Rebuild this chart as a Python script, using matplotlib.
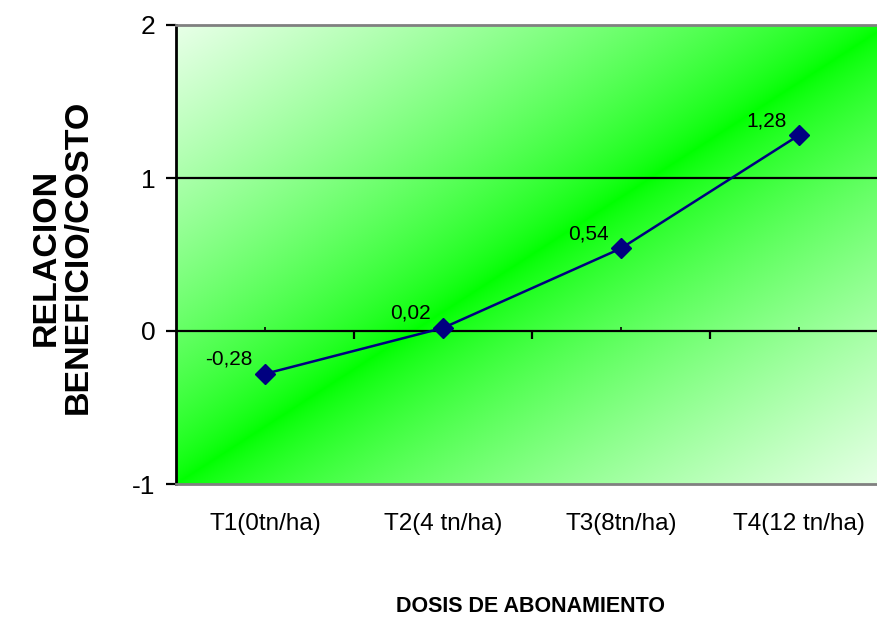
import numpy as np
import matplotlib.pyplot as plt

plt.rcParams['font.family'] = ['Liberation Sans', 'DejaVu Sans']

# data
categories = ['T1(0tn/ha)', 'T2(4 tn/ha)', 'T3(8tn/ha)', 'T4(12 tn/ha)']
relacion_bc = [-0.28, 0.02, 0.54, 1.28]
value_labels = ['-0,28', '0,02', '0,54', '1,28']
yticks = [-1, 0, 1, 2]

fig = plt.figure(figsize=(8.78, 6.23), dpi=100)
# plot area runs a bit past the right edge of the picture (as in the source)
ax = fig.add_axes([176 / 878, 1 - 484 / 623, 712 / 878, 459 / 623])

# diagonal gradient: green along bottom-left -> top-right, pale in the corners
n = 400
u, v = np.meshgrid(np.linspace(0, 1, n), np.linspace(1, 0, n))
t = np.abs(u - v)
w = 232 * t ** 0.75 / 255
img = np.dstack([w, np.ones_like(w), w])
ax.imshow(img, extent=[0, 1, 0, 1], transform=ax.transAxes,
          aspect='auto', interpolation='bilinear', zorder=0)

x = np.arange(len(categories))
ax.axhline(1, color='black', lw=1.6, zorder=1)
ax.axhline(0, color='black', lw=1.6, zorder=1)

# category-axis tick marks sitting on the zero line
ax.vlines(x[:-1] + 0.5, -0.055, 0, color='black', lw=1.6, zorder=1)
ax.vlines(x, 0, 0.025, color='black', lw=1.2, zorder=1)

ax.plot(x, relacion_bc, color='#000080', lw=1.8, marker='D', ms=10.5,
        markerfacecolor='#000080', markeredgecolor='#000080', zorder=3)

for xi, yi, lab in zip(x, relacion_bc, value_labels):
    ax.annotate(lab, (xi, yi), xytext=(-12, 9), textcoords='offset pixels',
                ha='right', va='baseline', fontsize=15, color='black', zorder=4)

ax.set_xlim(-0.5, len(categories) - 0.5)
ax.set_ylim(-1, 2)
ax.set_yticks(yticks)
ax.set_yticklabels([str(v) for v in yticks])
ax.set_xticks(x)
ax.set_xticklabels(categories)
ax.tick_params(axis='x', length=0, pad=21, labelsize=17.5)
ax.tick_params(axis='y', length=7, width=1.6, pad=8, labelsize=19, direction='out')

ax.spines['left'].set_linewidth(2)
ax.spines['left'].set_color('black')
for s in ['top', 'bottom']:
    ax.spines[s].set_color('#808080')
    ax.spines[s].set_linewidth(2)
ax.spines['right'].set_visible(False)

fig.text(531 / 878, 1 - 607 / 623, 'DOSIS DE ABONAMIENTO', ha='center', va='center',
         fontsize=15.5, fontweight='bold')
fig.text(62 / 878, 1 - 257 / 623, 'RELACION\nBENEFICIO/COSTO', ha='center', va='center',
         rotation=90, fontsize=24.5, fontweight='bold', linespacing=1.05)

fig.savefig('out.png', dpi=100)
